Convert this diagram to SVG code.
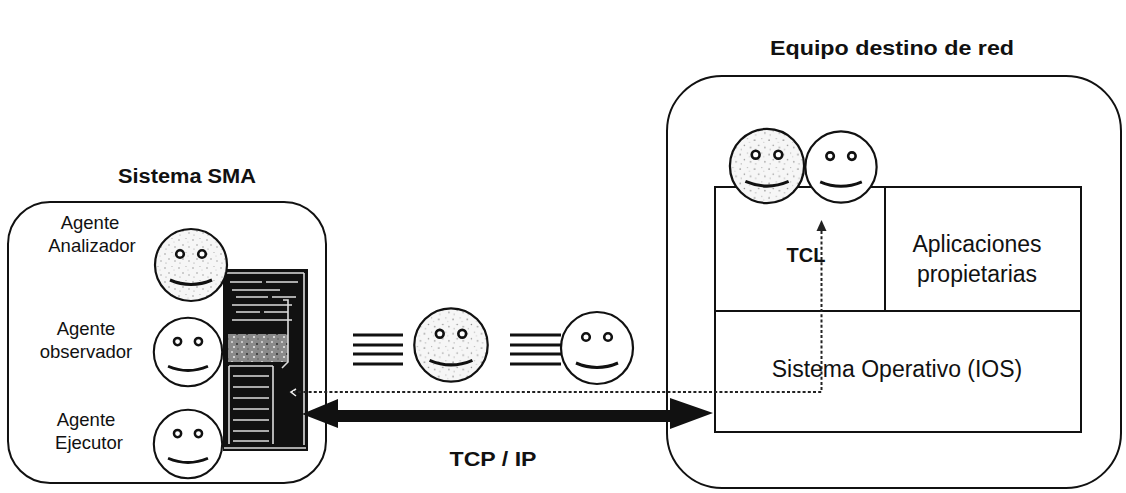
<svg xmlns="http://www.w3.org/2000/svg" xmlns:xlink="http://www.w3.org/1999/xlink" width="1126" height="493" viewBox="0 0 1126 493">
  <style>
    .box { fill: none; stroke: #111; stroke-width: 2; }
    .cell { fill: #fff; stroke: #111; stroke-width: 2; }
    .title { font-family: "Liberation Sans", Arial, sans-serif; font-weight: bold; font-size: 20px; fill: #111; }
    .label { font-family: "Liberation Sans", Arial, sans-serif; font-size: 18.5px; fill: #111; }
    .big { font-family: "Liberation Sans", Arial, sans-serif; font-size: 23px; fill: #111; }
    .dots { fill: none; stroke: #222; stroke-width: 2; stroke-dasharray: 3 2.2; }
    .speed { stroke: #111; stroke-width: 3; }
    .hi { stroke: #ddd; stroke-width: 1.6; fill: none; }
  </style>
  <defs>
    <!-- grain used for the shaded faces -->
    <pattern id="grain" width="14" height="14" patternUnits="userSpaceOnUse">
      <rect width="14" height="14" fill="#f6f6f6"/>
      <circle cx="2" cy="3" r="0.8" fill="#999"/>
      <circle cx="9" cy="1.5" r="0.6" fill="#aaa"/>
      <circle cx="6" cy="8" r="0.7" fill="#888"/>
      <circle cx="12" cy="10" r="0.8" fill="#a5a5a5"/>
      <circle cx="3" cy="12" r="0.6" fill="#999"/>
      <circle cx="11" cy="5" r="0.5" fill="#bbb"/>
    </pattern>
    <pattern id="noise" width="10" height="10" patternUnits="userSpaceOnUse">
      <rect width="10" height="10" fill="#8a8a8a"/>
      <circle cx="2" cy="2" r="1" fill="#ddd"/>
      <circle cx="7" cy="4" r="1.1" fill="#333"/>
      <circle cx="4" cy="7" r="1" fill="#eee"/>
      <circle cx="8" cy="9" r="0.8" fill="#555"/>
    </pattern>
    <!-- smiley face, radius 36, centred on the origin -->
    <g id="face">
      <circle cx="-11" cy="-11" r="3.8" fill="#fff" stroke="#111" stroke-width="2.6"/>
      <circle cx="11" cy="-11" r="3.8" fill="#fff" stroke="#111" stroke-width="2.6"/>
      <path d="M -21 15 Q 0 24 21 15" fill="none" stroke="#111" stroke-width="3"/>
    </g>
    <g id="smiley-plain">
      <circle r="36" fill="#fff" stroke="#111" stroke-width="2.2"/>
      <use xlink:href="#face"/>
    </g>
    <g id="smiley-grain">
      <circle r="36" fill="url(#grain)" stroke="#111" stroke-width="2.2"/>
      <use xlink:href="#face"/>
    </g>
  </defs>

  <rect width="1126" height="493" fill="#fff"/>

  <!-- multi-agent system -->
  <g id="sistema-sma">
    <text class="title" x="187" y="183" text-anchor="middle" textLength="138" lengthAdjust="spacingAndGlyphs">Sistema SMA</text>
    <rect class="box" x="8" y="202" width="318" height="281" rx="42"/>

    <!-- server tower -->
    <g id="servidor">
      <rect x="223" y="269" width="85" height="182" fill="#111"/>
      <path class="hi" d="M 226 273 L 304 273 M 304 273 L 304 445"/>
      <path class="hi" d="M 230 282 L 262 282 M 266 282 L 298 282 M 232 290 L 280 290 M 236 297 L 268 297 M 272 297 L 296 297 M 232 305 L 292 305 M 236 312 L 260 312 M 264 312 L 288 312 M 232 320 L 292 320"/>
      <rect x="228" y="334" width="60" height="28" fill="url(#noise)"/>
      <path class="hi" d="M 283 300 L 288 300 L 288 362 L 282 368"/>
      <path class="hi" d="M 229 366 L 229 444 M 273 366 L 273 444 M 229 366 L 273 366"/>
      <path class="hi" d="M 233 376 L 269 376 M 233 387 L 269 387 M 233 398 L 269 398 M 233 409 L 269 409 M 233 420 L 269 420 M 233 431 L 269 431 M 233 441 L 269 441"/>
      <path class="hi" d="M 224 448 L 306 448"/>
      <path d="M 296 389 L 291 392 L 296 396" fill="none" stroke="#eee" stroke-width="1.6"/>
    </g>

    <g id="agente-analizador">
      <text class="label" x="90" y="229" text-anchor="middle">Agente</text>
      <text class="label" x="92" y="252" text-anchor="middle">Analizador</text>
      <use xlink:href="#smiley-grain" transform="translate(191 265)"/>
    </g>
    <g id="agente-observador">
      <text class="label" x="86" y="335" text-anchor="middle">Agente</text>
      <text class="label" x="86" y="358" text-anchor="middle">observador</text>
      <use xlink:href="#smiley-plain" transform="translate(188 352) scale(0.95)"/>
    </g>
    <g id="agente-ejecutor">
      <text class="label" x="86" y="426" text-anchor="middle">Agente</text>
      <text class="label" x="89" y="449" text-anchor="middle">Ejecutor</text>
      <use xlink:href="#smiley-plain" transform="translate(188 444) scale(0.95)"/>
    </g>
  </g>

  <!-- agents travelling over the network -->
  <g id="agentes-en-transito">
    <path class="speed" d="M 353 335 L 403 335 M 353 345 L 403 345 M 353 354 L 403 354 M 353 364 L 403 364"/>
    <use xlink:href="#smiley-grain" transform="translate(451 345) scale(1.02)"/>
    <path class="speed" d="M 510 335 L 561 335 M 510 345 L 561 345 M 510 354 L 561 354 M 510 364 L 561 364"/>
    <use xlink:href="#smiley-plain" transform="translate(597 348)"/>
  </g>

  <!-- target network device -->
  <g id="equipo-destino">
    <text class="title" x="892" y="55" text-anchor="middle" textLength="244" lengthAdjust="spacingAndGlyphs">Equipo destino de red</text>
    <rect class="box" x="667" y="76" width="454" height="412" rx="55"/>
    <rect class="cell" x="715" y="187" width="366" height="245"/>
    <path class="box" d="M 715 311 L 1081 311 M 885 187 L 885 311"/>
    <text class="title" x="806" y="262" text-anchor="middle">TCL</text>
    <text class="big" x="977" y="252" text-anchor="middle">Aplicaciones</text>
    <text class="big" x="977" y="282" text-anchor="middle">propietarias</text>
    <text class="big" x="897" y="377" text-anchor="middle">Sistema Operativo (IOS)</text>
    <use xlink:href="#smiley-grain" transform="translate(767 166) scale(1.03)"/>
    <use xlink:href="#smiley-plain" transform="translate(841 167) scale(0.99)"/>
  </g>

  <!-- connectors -->
  <g id="conectores">
    <path class="dots" d="M 293 392 L 821.5 392 L 821.5 230"/>
    <polygon points="821.5,220 816.5,231 826.5,231" fill="#222"/>
    <path d="M 302 414 L 338 399 L 338 410 L 670 410 L 670 398 L 713 413 L 670 429 L 670 422 L 338 422 L 338 428 Z" fill="#111"/>
    <text class="title" x="493" y="466" text-anchor="middle" textLength="87" lengthAdjust="spacingAndGlyphs">TCP / IP</text>
  </g>
</svg>
